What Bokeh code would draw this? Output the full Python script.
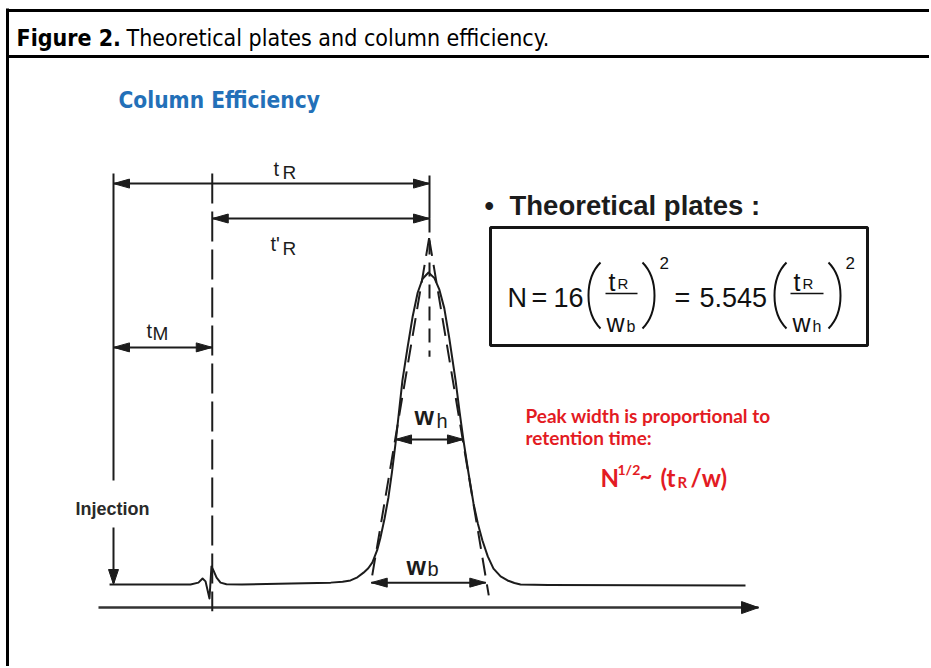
from bokeh.plotting import figure
from bokeh.models import Range1d
from bokeh.core.properties import value
from bokeh.embed import file_html
from bokeh.resources import INLINE

# ---------------- data (time in arbitrary units, signal in % of peak height) -------------
chrom_time = [-0.2, 3.0, 3.9, 4.3, 4.51, 4.66, 4.86, 4.96, 5.06, 5.22,
              5.42, 5.72, 6.5, 9.0, 11.0, 11.6, 12.0, 12.35, 12.66, 12.9,
              13.11, 13.35, 13.52, 13.72, 13.92, 14.1, 14.28, 14.45, 14.63, 14.89,
              15.15, 15.4, 15.65, 15.95, 16.25, 16.5, 16.75, 17.0, 17.32, 17.52,
              17.72, 17.98, 18.23, 18.45, 18.68, 18.95, 19.24, 19.6, 19.95, 20.3,
              20.61, 22.0, 32.0]
chrom_signal = [0.0, 0.0, 0.0, 0.6, 1.9, 1.0, -4.5, 5.8, 4.5, 2.2,
                0.6, 0.1, 0.0, 0.3, 0.6, 0.9, 1.3, 2.3, 3.8, 5.2,
                7.1, 11.0, 15.1, 21.0, 27.9, 36.0, 45.2, 55.0, 65.4, 76.0,
                86.0, 93.5, 98.0, 100.0, 98.2, 94.5, 88.5, 79.0, 65.4, 55.5,
                46.2, 35.5, 25.9, 19.5, 14.1, 9.0, 5.1, 2.6, 1.3, 0.5,
                0.0, -0.2, -0.3]

t_injection = 0.0
t_M = 5.0
t_R = 16.0
w_h_edges = [14.28, 17.72]     # width at half height
w_h_level = 46.5
w_b_edges = [13.05, 18.85]     # width at base (tangent intercepts)
w_b_level = 0.6
tangent_apex = [15.98, 111.0]
tangent_feet_t = [13.05, 19.0]
tangent_feet_s = [1.0, -3.5]

# dimension-arrow levels (signal units)
level_tR = 128.5
level_tpR = 117.3
level_tM = 76.0
bracket_top = 131.7
axis_level = -7.4
axis_span = [-0.76, 32.66]

# ---------------- layout ----------------
W, H = 929, 666
OX, OY = 113.0, 584.0      # page pixel of (t=0, s=0)
PX_T, PX_S = 19.75, 3.12   # pixels per unit

p = figure(width=W, height=H, output_backend="svg", toolbar_location=None,
           x_range=Range1d((0 - OX) / PX_T, (W - OX) / PX_T),
           y_range=Range1d((OY - H) / PX_S, OY / PX_S),
           min_border=0, background_fill_color="white", border_fill_color="white")
p.axis.visible = False
p.grid.visible = False
p.outline_line_color = None
p.extra_x_ranges = {"px": Range1d(0, W)}
p.extra_y_ranges = {"px": Range1d(H, 0)}
PX = dict(x_range_name="px", y_range_name="px")

INK = "#1c1c1c"
COND = "DejaVu Sans Condensed"


def txt(x, y, s, size, font="Liberation Sans", style="normal", color=INK, align="left"):
    p.text(x=[x], y=[y], text=[s], text_font=value(font), text_font_size=value(size),
           text_font_style=style, text_color=color, text_align=align,
           text_baseline="alphabetic", **PX)


# frame of the figure box
p.segment(x0=[6, 6, 7], y0=[10, 56, 8], x1=[W, W, 7], y1=[10, 56, H],
          line_color="black", line_width=3, **PX)
txt(16, 37, "Figure 2.", "23px", font=COND, style="bold", color="black")
txt(126, 37, "Theoretical plates and column efficiency.", "23px", font=COND, color="black")
txt(118, 99, "Column Efficiency", "22.5px", font=COND, style="bold", color="#2370b8")

# ---------------- chromatogram ----------------
heads_x, heads_y = [], []


def head(xt, yt, d, L=16.0, Wd=4.5):
    if d == "right":
        heads_x.append([xt, xt - L / PX_T, xt - L / PX_T])
        heads_y.append([yt, yt + Wd / PX_S, yt - Wd / PX_S])
    elif d == "left":
        heads_x.append([xt, xt + L / PX_T, xt + L / PX_T])
        heads_y.append([yt, yt + Wd / PX_S, yt - Wd / PX_S])
    else:
        heads_x.append([xt, xt - Wd / PX_T, xt + Wd / PX_T])
        heads_y.append([yt, yt + L / PX_S, yt + L / PX_S])


def harrow(a, b, lvl):
    p.line([a, b], [lvl, lvl], line_color=INK, line_width=2)
    head(a, lvl, "left")
    head(b, lvl, "right")


# time axis
p.line(axis_span, [axis_level, axis_level], line_color="#333333", line_width=2.5)
head(axis_span[1], axis_level, "right", L=17, Wd=6)

# injection marker
p.line([t_injection, t_injection], [bracket_top, 33.3], line_color=INK, line_width=2)
p.line([t_injection, t_injection], [18.3, 0.5], line_color=INK, line_width=2)
head(t_injection, 0.0, "down", L=15, Wd=5)

# dead-time dashed line
p.line([t_M, t_M], [bracket_top, -8.6], line_color=INK, line_width=2, line_dash="30 8")

# retention-time line
p.line([t_R, t_R], [bracket_top - 0.6, level_tpR], line_color=INK, line_width=2)
p.line([t_R, t_R], [level_tpR, 73.0], line_color=INK, line_width=2, line_dash="14 8")

# tangents
for ft, fs in zip(tangent_feet_t, tangent_feet_s):
    p.line([tangent_apex[0], ft], [tangent_apex[1], fs], line_color=INK, line_width=2,
           line_dash="18 9")

p.line(chrom_time, chrom_signal, line_color=INK, line_width=2, line_join="round")

harrow(t_injection, t_R, level_tR)
harrow(t_M, t_R, level_tpR)
harrow(t_injection, t_M, level_tM)
harrow(w_h_edges[0], w_h_edges[1], w_h_level)
harrow(w_b_edges[0], w_b_edges[1], w_b_level)

p.patches(heads_x, heads_y, fill_color=INK, line_color=INK, line_width=1)

# labels of the diagram
txt(273, 168, "t", "20px")
txt(282, 172, "R", "19px")
txt(270, 243, "t'", "20px")
txt(282, 248, "R", "19px")
txt(146, 330, "t", "20px")
txt(152, 333, "M", "19px")
txt(75, 508, "Injection", "18px", style="bold", color="#2a2a2a")
txt(414, 415, "w", "25px", style="bold")
txt(436, 420, "h", "20px")
txt(406, 565, "w", "25px", style="bold")
txt(427, 568, "b", "20px")

# ---------------- theoretical plates formula ----------------
txt(484, 205, "\u2022", "27px", style="bold")
txt(509, 205, "Theoretical plates :", "27.5px", style="bold")
p.quad(left=[490], right=[867], top=[227], bottom=[345], fill_color=None,
       line_color="#151515", line_width=3, **PX)
FC = "#111111"
txt(507, 297, "N", "27px", color=FC)
txt(531, 297, "=", "27px", color=FC)
txt(553, 297, "16", "27px", color=FC)
txt(674, 297, "=", "27px", color=FC)
txt(699, 297, "5.545", "27px", color=FC)
# parentheses
p.bezier(x0=[600, 642, 786, 828], y0=[262, 262, 262, 262],
         x1=[600, 642, 786, 828], y1=[328, 328, 328, 328],
         cx0=[584, 658, 770, 844], cy0=[278, 278, 278, 278],
         cx1=[584, 658, 770, 844], cy1=[312, 312, 312, 312],
         line_color=FC, line_width=2, **PX)
p.segment(x0=[605, 790], y0=[293, 293], x1=[637, 823], y1=[293, 293],
          line_color=FC, line_width=1.6, **PX)
txt(608, 281, "t", "25px", color=FC)
txt(617, 283, "R", "15px", color=FC)
txt(606, 322, "w", "25px", color=FC)
txt(626, 326, "b", "16px", color=FC)
txt(793, 281, "t", "25px", color=FC)
txt(802, 283, "R", "15px", color=FC)
txt(792, 322, "w", "25px", color=FC)
txt(812, 326, "h", "16px", color=FC)
txt(659, 262, "2", "17px", color=FC)
txt(845, 262, "2", "17px", color=FC)

# ---------------- red note ----------------
RED = "#e31b23"
txt(525, 415, "Peak width is proportional to", "19px", font="Lato", style="bold", color=RED)
txt(525, 437, "retention time:", "19px", font="Lato", style="bold", color=RED)
txt(600, 477, "N", "24px", font="Lato", style="bold", color=RED)
txt(617, 469, "1/2", "14px", font="Lato", style="bold", color=RED)
txt(639, 475, "~", "22px", font="Lato", style="bold", color=RED)
txt(660, 477, "(t", "24px", font="Lato", style="bold", color=RED)
txt(677, 481, "R", "15px", font="Lato", style="bold", color=RED)
txt(690, 477, "/w)", "24px", font="Lato", style="bold", color=RED)

open("out.html", "w").write(file_html(p, INLINE))
